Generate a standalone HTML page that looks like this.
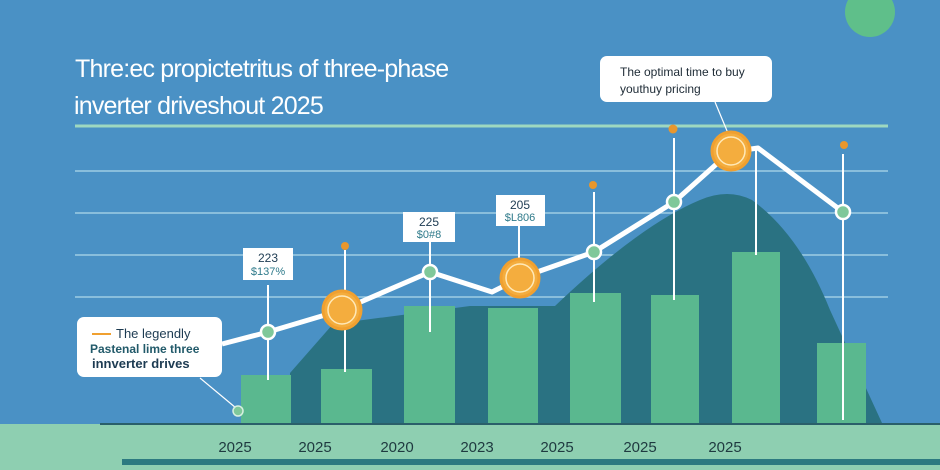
<!DOCTYPE html>
<html><head><style>
html,body{margin:0;padding:0;background:#4a91c5;}
svg{display:block;font-family:"Liberation Sans",sans-serif;}
</style></head><body>
<svg width="940" height="470" viewBox="0 0 940 470" xmlns="http://www.w3.org/2000/svg">
<rect width="940" height="470" fill="#4a91c5"/>
<circle cx="870" cy="12" r="25" fill="#5fbf8a"/>
<text x="75" y="77" font-size="25" fill="#fff" font-weight="500" letter-spacing="-0.8">Thre:ec propictetritus of three-phase</text>
<text x="74" y="114" font-size="25" fill="#fff" letter-spacing="-0.8">inverter driveshout 2025</text>
<g stroke-width="1.5" stroke="#a8d4e8" opacity="0.9">
<line x1="75" y1="171" x2="888" y2="171"/>
<line x1="75" y1="213" x2="888" y2="213"/>
<line x1="75" y1="255" x2="888" y2="255"/>
<line x1="75" y1="297" x2="888" y2="297"/>
</g>
<line x1="75" y1="126" x2="888" y2="126" stroke="#9ed8c0" stroke-width="3"/>
<path d="M290,423 L290,373 L333,324 L470,306 L555,306 Q640,225 700,200 Q728,188 752,200 Q800,235 830,310 L882,423 Z" fill="#2a7282"/>
<g fill="#5ab88f">
<rect x="241" y="375" width="50" height="48"/>
<rect x="321" y="369" width="51" height="54"/>
<rect x="404" y="306" width="51" height="117"/>
<rect x="488" y="308" width="50" height="115"/>
<rect x="570" y="293" width="51" height="130"/>
<rect x="651" y="295" width="48" height="128"/>
<rect x="732" y="252" width="48" height="171"/>
<rect x="817" y="343" width="49" height="80"/>
</g>
<rect x="0" y="424" width="940" height="46" fill="#8ecfb1"/>
<line x1="100" y1="424" x2="940" y2="424" stroke="#2a5f6a" stroke-width="2"/>
<rect x="122" y="459" width="818" height="6" fill="#2c7a80"/>
<g fill="#1f3a40" font-size="15" text-anchor="middle">
<text x="235" y="452">2025</text><text x="315" y="452">2025</text><text x="397" y="452">2020</text>
<text x="477" y="452">2023</text><text x="557" y="452">2025</text><text x="640" y="452">2025</text><text x="725" y="452">2025</text>
</g>
<g stroke="#fff" stroke-width="2">
<line x1="268" y1="285" x2="268" y2="380"/>
<line x1="345" y1="250" x2="345" y2="372"/>
<line x1="430" y1="242" x2="430" y2="332"/>
<line x1="519" y1="225" x2="519" y2="290"/>
<line x1="594" y1="192" x2="594" y2="302"/>
<line x1="674" y1="138" x2="674" y2="300"/>
<line x1="756" y1="150" x2="756" y2="255"/>
<line x1="843" y1="154" x2="843" y2="420"/>
<line x1="200" y1="378" x2="236" y2="408" stroke-width="1.2"/>
<line x1="715" y1="102" x2="730" y2="138" stroke-width="1.2"/>
</g>
<polyline points="222,344 268,332 342,310 430,272 492,292 520,278 594,252 674,202 730,152 758,148 843,212" fill="none" stroke="#fff" stroke-width="5" stroke-linejoin="round"/>
<g fill="#7fc89a" stroke="#fff" stroke-width="2.5">
<circle cx="268" cy="332" r="7"/><circle cx="430" cy="272" r="7"/><circle cx="594" cy="252" r="7"/>
<circle cx="674" cy="202" r="7"/><circle cx="843" cy="212" r="7"/>
</g>
<circle cx="238" cy="411" r="5" fill="#7fc89a" stroke="#d8f0e0" stroke-width="1.5"/>
<g fill="#f4ad3e" stroke="#f0a030" stroke-width="3">
<circle cx="342" cy="310" r="19"/><circle cx="520" cy="278" r="19"/><circle cx="731" cy="151" r="19"/>
</g>
<g fill="none" stroke="#ffe9b8" stroke-width="1.5">
<circle cx="342" cy="310" r="14"/><circle cx="520" cy="278" r="14"/><circle cx="731" cy="151" r="14"/>
</g>
<g fill="#e8972e"><circle cx="345" cy="246" r="4"/><circle cx="593" cy="185" r="4"/><circle cx="673" cy="129" r="4.5"/><circle cx="844" cy="145" r="4"/></g>
<g font-size="11" text-anchor="middle">
<rect x="243" y="248" width="50" height="32" fill="#fff"/>
<text x="268" y="262" fill="#1d3b52" font-size="12">223</text><text x="268" y="275" fill="#2e7a8a">$137%</text>
<rect x="403" y="212" width="52" height="30" fill="#fff"/>
<text x="429" y="226" fill="#1d3b52" font-size="12">225</text><text x="429" y="238" fill="#2e7a8a">$0#8</text>
<rect x="496" y="195" width="49" height="31" fill="#fff"/>
<text x="520" y="209" fill="#1d3b52" font-size="12">205</text><text x="520" y="221" fill="#2e7a8a">$L806</text>
</g>
<rect x="600" y="56" width="172" height="46" rx="7" fill="#fff"/>
<text x="620" y="76" font-size="12" fill="#1d2a35">The optimal time to buy</text>
<text x="620" y="93" font-size="12" fill="#1d2a35">youthuy pricing</text>
<rect x="77" y="317" width="145" height="60" rx="7" fill="#fff"/>
<rect x="92" y="333" width="19" height="2" fill="#f0a030"/>
<text x="116" y="338" font-size="13" fill="#1d3b52">The legendly</text>
<text x="90" y="353" font-size="12" fill="#225a6a" font-weight="bold">Pastenal lime three</text>
<text x="92" y="368" font-size="13" fill="#1d3b52" font-weight="bold">innverter drives</text>
</svg>
</body></html>
